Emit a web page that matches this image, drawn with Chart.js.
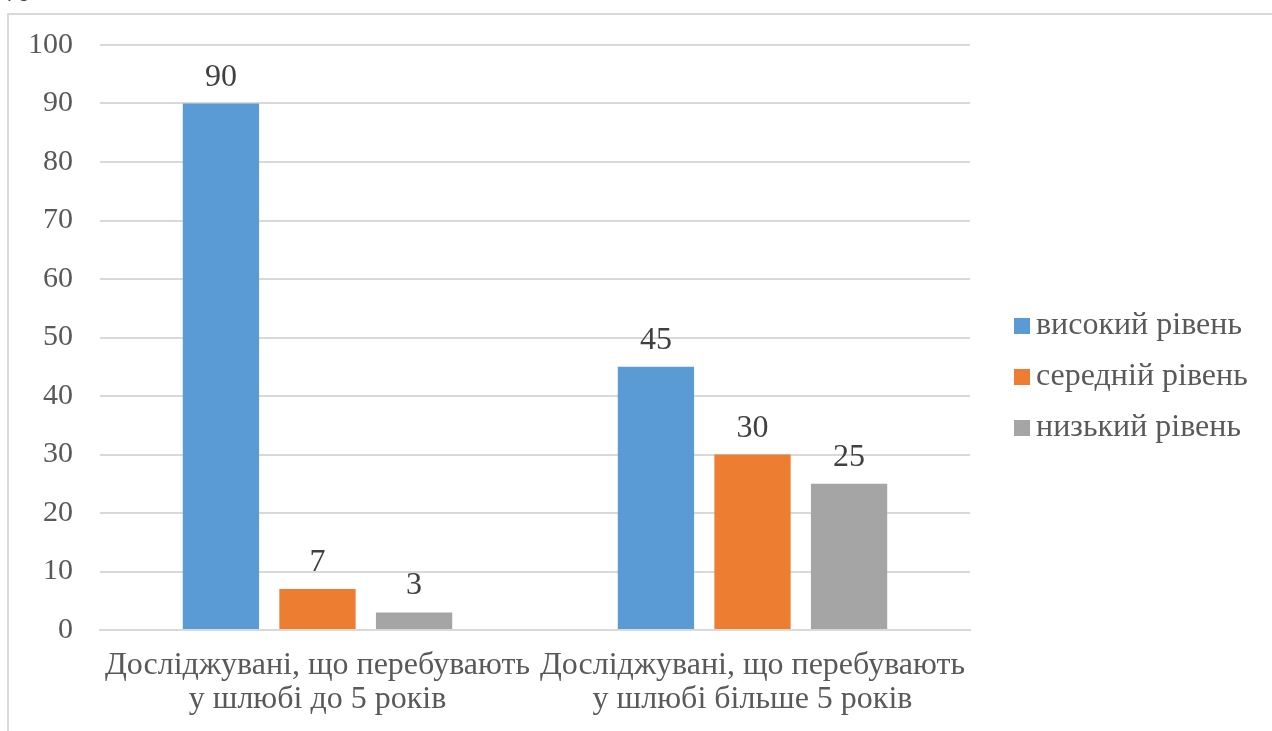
<!DOCTYPE html>
<html>
<head>
<meta charset="utf-8">
<script src="https://cdn.jsdelivr.net/npm/chart.js@4.4.0/dist/chart.umd.min.js"></script>
<style>
  html, body { margin: 0; padding: 0; background: #fff; overflow: hidden; }
  #wrap { position: absolute; left: 0; top: 0; width: 1272px; height: 731px; overflow: hidden; }
  #frame { position: absolute; left: 7px; top: 13px; width: 1300px; height: 800px;
           border-left: 2px solid #d9d9d9; border-top: 2px solid #d9d9d9; box-sizing: border-box; }
  #pct { position: absolute; left: 3px; top: -28px; font: 32px "Liberation Serif", serif; color: #404040; }
  canvas { position: absolute; left: 0; top: 0; }
</style>
</head>
<body>
<div id="wrap">
  <div id="pct">%</div>
  <div id="frame"></div>
  <canvas id="c" width="1272" height="731"></canvas>
</div>
<script>
const categories = [
  ["Досліджувані, що перебувають", "у шлюбі до 5 років"],
  ["Досліджувані, що перебувають", "у шлюбі більше 5 років"]
];
const seriesNames = ["високий рівень", "середній рівень", "низький рівень"];
const highLevel = [90, 45];
const midLevel = [7, 30];
const lowLevel = [3, 25];
const seriesColors = ["#5b9bd5", "#ed7d31", "#a5a5a5"];
const yTicks = { min: 0, max: 100, step: 10 };

const SERIF = '"Liberation Serif", "Times New Roman", serif';

const valueLabels = {
  id: 'valueLabels',
  afterDatasetsDraw(chart) {
    const ctx = chart.ctx;
    ctx.save();
    ctx.font = '32px ' + SERIF;
    ctx.fillStyle = '#404040';
    ctx.textAlign = 'center';
    ctx.textBaseline = 'alphabetic';
    chart.data.datasets.forEach((ds, i) => {
      chart.getDatasetMeta(i).data.forEach((bar, j) => {
        ctx.fillText(String(ds.data[j]), bar.x, bar.y - 18);
      });
    });
    ctx.restore();
  }
};

const sideLegend = {
  id: 'sideLegend',
  afterDraw(chart) {
    const ctx = chart.ctx;
    const area = chart.chartArea;
    ctx.save();
    ctx.font = '32px ' + SERIF;
    ctx.textAlign = 'left';
    ctx.textBaseline = 'alphabetic';
    const boxX = area.right + 44;
    let boxTop = area.top + 273;
    chart.data.datasets.forEach((ds) => {
      ctx.fillStyle = ds.backgroundColor;
      ctx.fillRect(boxX, boxTop, 16, 16);
      ctx.fillStyle = '#595959';
      ctx.fillText(ds.label, boxX + 22, boxTop + 16);
      boxTop += 51;
    });
    ctx.restore();
  }
};

new Chart(document.getElementById('c'), {
  type: 'bar',
  data: {
    labels: categories,
    datasets: [highLevel, midLevel, lowLevel].map((d, i) => ({
      label: seriesNames[i],
      data: d,
      backgroundColor: seriesColors[i],
      borderWidth: 0,
      categoryPercentage: 0.666,
      barPercentage: 0.79
    }))
  },
  options: {
    responsive: false,
    animation: false,
    devicePixelRatio: 1,
    layout: { padding: { left: 0, top: 29, right: 302, bottom: 0 } },
    plugins: {
      tooltip: { enabled: false },
      legend: { display: false }
    },
    scales: {
      x: {
        grid: { display: false, drawTicks: false },
        border: { display: true, color: '#d9d9d9', width: 2 },
        afterFit(scale) { scale.height = 101; },
        ticks: {
          autoSkip: false,
          maxRotation: 0,
          padding: 19,
          color: '#595959',
          font: { family: SERIF, size: 32, lineHeight: 1.06 }
        }
      },
      y: {
        min: yTicks.min,
        max: yTicks.max,
        grid: { color: '#d9d9d9', lineWidth: 2, drawTicks: false },
        border: { display: false },
        afterFit(scale) { scale.width = 100; },
        ticks: {
          stepSize: yTicks.step,
          padding: 27,
          color: '#595959',
          font: { family: SERIF, size: 30 }
        }
      }
    }
  },
  plugins: [valueLabels, sideLegend]
});
</script>
</body>
</html>
